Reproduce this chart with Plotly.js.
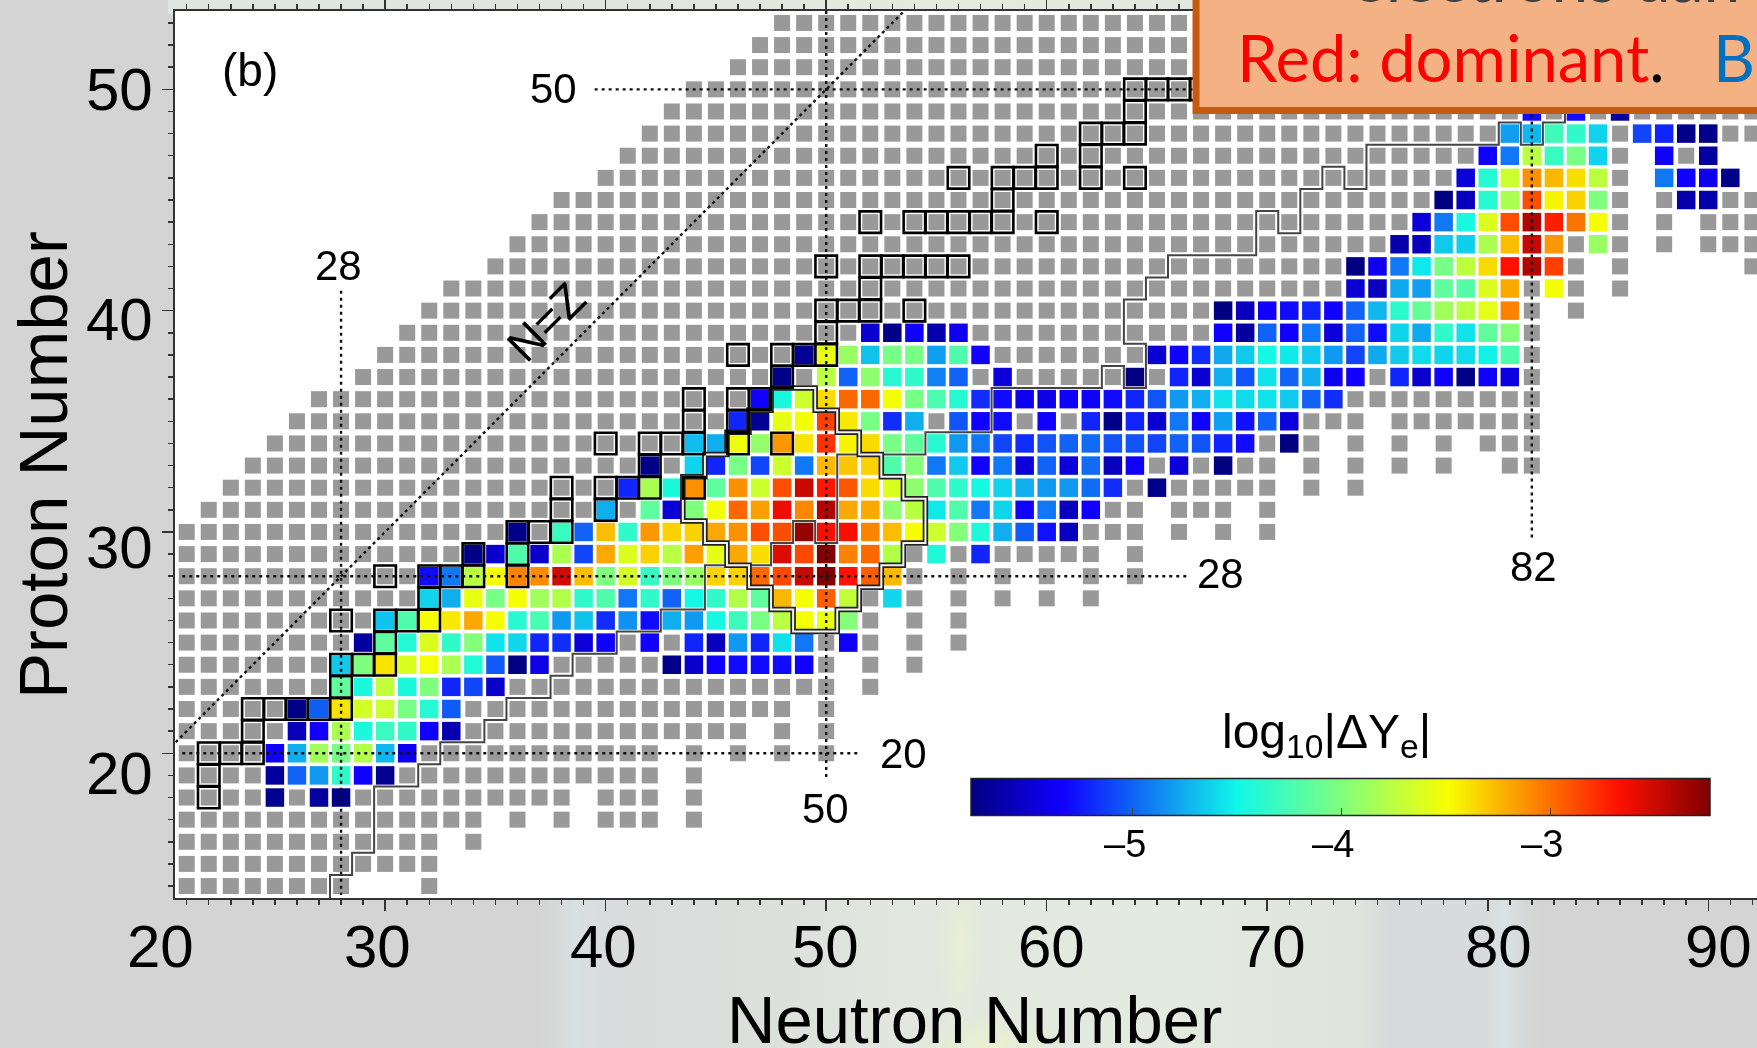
<!DOCTYPE html>
<html>
<head>
<meta charset="utf-8">
<title>Proton Number vs Neutron Number</title>
<script src="https://cdn.plot.ly/plotly-3.0.1.min.js"></script>
<style>
html,body{margin:0;padding:0;width:1757px;height:1048px;overflow:hidden;background:#d4d4d4;}
#bgTop{position:absolute;left:168px;top:0;width:1589px;height:14px;
 background:linear-gradient(to right,#dfe5e2 0,#e0e6dc 30%,#e5ecdf 50%,#e2e8dd 62%,#d9dcd9 100%);}
#bgBottom{position:absolute;left:540px;top:895px;width:1000px;height:153px;
 background:
 radial-gradient(ellipse 22px 90px at 420px 50px,rgba(240,244,205,.5),rgba(240,244,205,0)),
 radial-gradient(ellipse 80px 32px at 450px 150px,rgba(238,242,200,.7),rgba(238,242,200,0)),
 linear-gradient(to right,#d4d4d4 0,#d7d9d9 18px,#d8e0e2 35px,#d8dcdc 60px,#d9dcdb 90px,#dcdfdc 220px,#e2e8df 380px,#e3eadf 660px,#dfe3dc 820px,#d7d9da 850px,#d8dadb 945px,#d9e2e5 965px,#d5d7d7 985px,#d4d4d4 1000px);}
#plot{position:absolute;left:0;top:0;width:1757px;height:1048px;filter:blur(0.5px);}
</style>
</head>
<body>
<div id="bgTop"></div>
<div id="bgBottom"></div>
<div id="plot"></div>
<script>
// Measured (grey) nuclei: proton number and inclusive neutron ranges
const greyZ = [53,52,51,50,49,48,47,46,45,44,43,42,41,40,39,38,37,36,35,34,33,32,31,30,29,28,27,26,25,24,23,22,21,20,19,18,17,16,15,14];
const greyRanges = [
 [[48,67]],[[47,67]],[[46,67]],[[44,67]],[[43,92]],[[42,92]],
 [[41,86],[88,90]],[[40,86],[88,91]],[[38,86],[88,92]],
 [[37,86],[88,88],[90,92]],[[36,86],[88,88],[90,92]],[[35,84],[86,86],[92,92]],
 [[33,84],[86,86]],[[32,82],[84,84]],[[31,82]],[[30,82]],[[29,82]],[[27,82]],
 [[26,74],[76,82]],[[25,72],[74,74],[76,76],[78,78],[80,82]],
 [[24,70],[72,72],[74,74],[76,76],[78,78],[81,82]],[[23,70],[72,72],[74,74]],
 [[22,64],[66,68],[70,70]],[[21,64],[66,66],[68,68],[70,70]],[[21,62],[64,64]],
 [[21,54],[56,56],[58,58],[60,60],[62,62],[64,64]],[[21,54],[56,56],[58,58],[60,60],[62,62]],
 [[21,52],[54,54],[56,56]],[[21,52],[54,54],[56,56]],[[21,50],[52,52],[54,54]],
 [[21,50],[52,52]],[[21,48],[50,50]],[[21,46],[48,48],[50,50]],
 [[21,42],[44,44],[46,46],[48,48],[50,50]],[[21,42],[44,44]],[[21,38],[40,42],[44,44]],
 [[21,34],[36,36],[38,38],[40,42],[44,44]],[[21,32],[34,34]],[[21,32]],[[21,28],[32,32]]
];

// log10|dYe| per row: proton number, first neutron number, values (null = no value)
const valueZ = [49,48,47,46,45,44,43,42,41,40,39,38,37,36,35,34,33,32,31,30,29,28,27,26,25,24,23,22,21,20,19,18];
const valueStartN = [82,81,80,79,78,77,76,74,74,68,52,49,48,47,46,44,42,41,40,36,34,32,32,30,29,28,28,26,26,25,25,25];
const valueRows = [
 [-5.30,null,-5.30,null,-5.67],
 [-4.80,-4.72,-4.29,-4.36,-4.62,null,-5.10,-5.21,-5.74,-5.74],
 [-5.33,-4.93,-3.76,-4.32,-4.04,-4.62,null,null,-5.33,null,-5.67],
 [-5.46,-4.40,-3.68,-3.12,-3.25,-3.38,-3.74,null,null,-4.93,-5.33,-5.39,-5.74],
 [-5.77,-5.56,-4.40,-3.82,-2.89,-3.46,-3.34,-4.00,null,null,null,-5.62,-5.62],
 [-5.46,-4.93,-4.46,-3.62,-2.89,-2.41,-2.73,-3.02,-3.51],
 [-5.62,-5.56,-4.66,-4.64,-3.82,-3.27,-2.49,-3.14,null,-3.90],
 [-5.77,-5.39,-4.93,-4.55,-4.04,-3.74,-3.37,-2.68,-2.41,-2.84],
 [-5.49,-5.56,-4.77,-4.80,-4.15,-4.20,-3.62,-3.20,null,-3.51],
 [-5.77,-5.56,-5.33,-5.30,-5.21,-5.33,-5.00,-4.72,-4.38,-4.12,-3.86,-3.76,-3.58,-3.07],
 [-5.49,-5.74,-5.33,-5.62,-5.39,null,null,null,null,null,null,null,null,null,null,null,-5.33,-5.67,-5.00,-5.33,-4.93,-5.46,-5.00,-5.30,-4.62,-4.77,-4.36,-4.57,-4.15,-3.98],
 [-5.70,-3.56,-3.90,-4.68,-4.04,-4.04,-4.80,-4.22,-5.33,null,null,null,null,null,null,null,-5.49,-5.33,-5.18,-4.77,-4.66,-4.48,-4.55,-4.66,-4.82,-5.10,-4.77,-4.66,-4.60,-4.62,-4.60,-4.52,-4.22],
 [-5.74,null,-3.76,-5.00,-3.94,-4.40,-4.36,-4.90,-5.00,null,-5.46,null,null,null,null,null,-5.77,null,-5.21,-5.49,-4.75,-5.05,-4.57,-5.00,-4.75,-5.39,-5.33,null,-5.21,-5.50,-5.33,-5.74,-5.36,-5.43],
 [-5.33,-4.45,-3.68,-3.37,-2.98,-2.98,-3.51,-4.04,-4.24,-4.40,-5.18,-5.30,-5.39,-5.42,-5.33,-5.36,-5.30,-5.21,-5.05,-4.82,-4.75,-4.57,-4.60,-4.57,-4.66,-5.00,-5.18],
 [-5.21,-5.70,-3.58,-3.51,-2.84,-3.42,-4.04,-5.18,-4.75,null,-5.05,-5.33,-5.30,null,-5.33,null,-5.21,-5.74,-5.21,-5.49,-4.93,-5.33,-4.80,-5.28,-5.00,-5.46],
 [-4.70,-4.75,-3.54,-3.92,-3.14,-3.40,-2.80,-3.46,-3.37,-4.04,-4.15,-4.40,-4.82,-4.93,-5.10,-5.18,-5.05,-5.00,-4.97,-5.05,-5.05,-5.10,-5.00,-5.05,-5.21,-5.30,null,-5.77],
 [-5.74,null,-4.62,-5.21,-4.04,-5.10,-3.68,-4.93,-3.25,-3.30,-3.34,-4.22,-3.98,-4.93,-4.66,-5.33,-4.93,-5.46,-5.00,-5.46,-4.97,-5.56,-5.36,null,-5.46,null,-5.77],
 [-5.21,-3.82,-4.45,-3.12,-4.15,-3.12,-3.68,-2.89,-2.49,-2.70,-2.92,-3.37,-3.62,-3.94,-4.22,-4.36,-4.48,-4.62,-4.75,-4.82,-4.82,-4.97,-5.18,null,-5.74],
 [-4.75,null,-4.15,-5.46,-4.00,-3.52,-2.98,-3.17,-2.62,-3.09,-2.41,-3.20,-3.20,-3.94,-3.76,-4.55,-4.22,-4.93,-4.62,-5.33,-4.93,-5.56,-5.33],
 [-5.74,null,-4.32,-5.00,-3.27,-4.36,-3.14,-3.34,-3.34,-3.20,-3.12,-2.89,-2.89,-2.31,-2.66,-2.66,-3.07,-3.27,-3.50,-3.68,-3.98,-4.43,-4.75,-5.02,-5.28,-5.56],
 [-5.74,-5.50,-4.22,-5.50,-3.82,-5.10,-3.20,-3.62,-3.34,-3.76,-3.17,-3.58,-3.20,-3.38,-2.56,-2.87,-2.24,-3.07,-2.98,-3.79,null,-4.43,null,-5.21],
 [-5.30,-4.93,-3.76,-3.51,-3.07,-3.10,-2.52,-3.27,-4.00,-3.65,-4.32,-4.00,-3.90,-3.34,-3.34,-2.98,-2.87,-2.49,-2.24,-2.68,-2.95,-3.25],
 [-4.62,-4.75,-3.56,-4.04,-3.50,-3.86,-3.79,-4.36,-4.22,-4.93,-4.36,-5.00,-4.48,-4.36,-3.79,-4.15,-3.25,-3.51,-2.95,-3.72,null,-4.61],
 [-4.68,-4.22,-3.50,-3.42,-3.20,-3.50,-4.40,-4.25,-4.82,-4.68,-5.18,-4.85,-5.30,-4.75,-4.82,-4.48,-4.30,-4.04,-3.76,-3.51,-3.56,-3.98],
 [-5.67,-4.15,-4.42,-3.62,-4.36,-3.98,-4.57,-4.61,-5.21,-5.18,-5.46,-5.33,null,-5.33,null,-5.21,-5.56,-4.82,-5.21,-4.58,-4.93,null,-5.36],
 [-4.66,-4.00,-3.40,-3.62,-3.51,-3.82,-4.42,-5.03,-5.77,-5.42,null,null,null,null,null,-5.74,-5.50,-5.33,-5.30,-5.30,-5.30,-5.33],
 [-4.15,-4.45,-3.72,-4.45,-4.00,-5.21,-5.10,-5.52],
 [-5.74,-5.02,-3.40,-3.65,-3.68,-4.04,-4.40,-5.03],
 [-5.56,-5.33,-3.82,-4.45,-4.32,-4.36,-5.33,-5.60],
 [-5.33,-4.75,-3.86,-4.04,-3.79,-4.72,-5.39],
 [-5.67,-5.00,-4.82,-4.36,-5.33,-5.72],
 [-5.72,null,-5.67,-5.74]
];

// Stable nuclei (black outlined squares)
const stableZ = [50,49,48,47,46,45,44,42,41,40,39,38,37,36,35,34,33,32,31,30,29,28,27,26,25,24,23,22,21,20,19,18];
const stableN = [[64,65,66,67],[64],[62,63,64],[60,62],[56,58,59,60,62,64],[58],[52,54,55,56,57,58,60],[50,52,53,54,55,56],[52],[50,51,52,54],[50],[46,48,49,50],[48],[44,46,47],[44,46],[40,42,43,44,46,48],[42],[38,40,41,42,44],[38,40],[36,37,38],[34,36],[30,32,33,34,36],[32],[28,30,31,32],[30],[28,29,30],[28],[24,25,26,27,28],[24],[22,23,24],[22],[22]];

// Stepped outline of the r-process path
const pathN = [27.5,27.5,28.5,28.5,29.5,29.5,31.5,31.5,32.5,32.5,34.5,34.5,35.5,35.5,37.5,37.5,38.5,38.5,40.5,40.5,42.5,42.5,44.5,44.5,47.5,47.5,48.5,48.5,49.5,49.5,50.5,50.5,54.5,54.5,57.5,57.5,62.5,62.5,63.5,63.5,64.5,64.5,63.5,63.5,64.5,64.5,65.5,65.5,69.5,69.5,70.5,70.5,71.5,71.5,72.5,72.5,73.5,73.5,74.5,74.5,80.5,80.5,81.5,81.5,82.5,82.5,83.5,83.5];
const pathZ = [13.4,14.5,14.5,15.5,15.5,18.5,18.5,19.5,19.5,20.5,20.5,21.5,21.5,22.5,22.5,23.5,23.5,24.5,24.5,25.5,25.5,26.5,26.5,28.5,28.5,29.5,29.5,30.5,30.5,29.5,29.5,33.5,33.5,34.5,34.5,36.5,36.5,37.5,37.5,36.5,36.5,38.5,38.5,40.5,40.5,41.5,41.5,42.5,42.5,44.5,44.5,43.5,43.5,45.5,45.5,46.5,46.5,45.5,45.5,47.5,47.5,48.5,48.5,47.5,47.5,48.5,48.5,50];

// Diamond outline around the dominant region
const diamondN = [47.5,49.5,49.5,50.5,50.5,51.5,51.5,52.5,52.5,53.5,53.5,54.5,54.5,53.5,53.5,52.5,52.5,51.5,51.5,50.5,50.5,48.5,48.5,47.5,47.5,46.5,46.5,45.5,45.5,44.5,44.5,43.5,43.5,44.5,44.5,45.5,45.5,46.5,46.5,47.5,47.5];
const diamondZ = [36.5,36.5,35.5,35.5,34.5,34.5,33.5,33.5,32.5,32.5,31.5,31.5,29.5,29.5,28.5,28.5,27.5,27.5,26.5,26.5,25.5,25.5,26.5,26.5,27.5,27.5,28.5,28.5,29.5,29.5,30.5,30.5,32.5,32.5,33.5,33.5,34.5,34.5,35.5,35.5,36.5];

// Magic number guide lines and N=Z
const guideN = [[28,28],[50,50],[82,82],[39.5,67],[20.8,66.4],[20.8,51.5]];
const guideZ = [[40.9,13.6],[53.54,18.8],[49.5,29.6],[50,50],[28,28],[20,20]];
const diagonalN = [20.5,53.5];
const diagonalZ = [20.5,53.5];

// Colour bar
const valueMin = -5.774, valueMax = -2.238;
const barTicks = [-5,-4,-3];
const barTickText = ['\u20135','\u20134','\u20133'];
const barTickPx = [1125,1333,1542];
const jet = [[0,'#00007f'],[0.125,'#1000ff'],[0.36,'#10f8e8'],[0.5,'#7fff7f'],[0.645,'#f8ff00'],[0.875,'#ff1000'],[1,'#7f0000']];

// Text
const xTickText = ['20','30','40','50','60','70','80','90'];
const xTickPx = [160,377,603,825,1051,1272,1498,1718];
const yTickText = ['50','40','30','20'];
const yTickPx = [90,319,547,773];
const noteText = ['50','28','28','82','20','50'];
const noteX = [553,338,1220,1533,903,825];
const noteY = [89,265,573,566,753,808];

// ---------- build ----------
const W=1757,H=1048,ML=175,MT=11,MB=150;
const PW=W-ML,PH=H-MT-MB;
const px=X=>(X-ML)/PW, py=Y=>(H-MB-Y)/PH;
const FONT='Liberation Sans, Arial, sans-serif';

const gx=[],gy=[];
greyZ.forEach((z,i)=>greyRanges[i].forEach(r=>{for(let n=r[0];n<=r[1];n++){gx.push(n);gy.push(z);}}));
const cx=[],cy=[],cv=[];
valueZ.forEach((z,i)=>valueRows[i].forEach((v,j)=>{if(v!==null){cx.push(valueStartN[i]+j);cy.push(z);cv.push(v);}}));
const sx=[],sy=[];
stableZ.forEach((z,i)=>stableN[i].forEach(n=>{sx.push(n);sy.push(z);}));

const traces=[
 {type:'scatter',mode:'markers',x:gx,y:gy,hoverinfo:'skip',showlegend:false,
  marker:{symbol:'square',size:16,color:'#999999',line:{width:0}}},
 {type:'scatter',mode:'markers',x:cx,y:cy,showlegend:false,
  marker:{symbol:'square',size:18.5,color:cv,cmin:valueMin,cmax:valueMax,colorscale:jet,line:{width:0},showscale:true,
   colorbar:{orientation:'h',lenmode:'pixels',len:739,thicknessmode:'pixels',thickness:37.4,
    x:px(971),xanchor:'left',xref:'paper',y:py(824.7),yanchor:'bottom',yref:'paper',xpad:0,ypad:0,
    outlinewidth:1.5,outlinecolor:'#222',ticks:'inside',ticklen:8,tickwidth:1,tickcolor:'#444',
    tickvals:barTicks,showticklabels:false}}},
 {type:'scatter',mode:'lines',x:pathN,y:pathZ,hoverinfo:'skip',showlegend:false,line:{color:'#444',width:2}},
 {type:'scatter',mode:'lines',x:diamondN,y:diamondZ,hoverinfo:'skip',showlegend:false,line:{color:'#222',width:5.5}},
 {type:'scatter',mode:'lines',x:diamondN,y:diamondZ,hoverinfo:'skip',showlegend:false,line:{color:'#f2f2f2',width:2}},
 {type:'scatter',mode:'markers',x:sx,y:sy,hoverinfo:'skip',showlegend:false,
  marker:{symbol:'square-open',size:21.5,color:'#000',line:{width:2.6,color:'#000'}}},
 {type:'scatter',mode:'lines',x:diagonalN,y:diagonalZ,hoverinfo:'skip',showlegend:false,line:{color:'#111',width:2.4,dash:'3px,3.5px'}}
];
guideN.forEach((g,i)=>traces.push({type:'scatter',mode:'lines',x:g,y:guideZ[i],hoverinfo:'skip',showlegend:false,line:{color:'#111',width:2.4,dash:'3px,4px'}}));

const ann=(text,X,Y,size,extra)=>Object.assign({text,x:px(X),y:py(Y),xref:'paper',yref:'paper',showarrow:false,xanchor:'center',yanchor:'middle',
  borderpad:0,borderwidth:0,font:{family:FONT,size,color:'#000'}},extra||{});
const annotations=[];
xTickText.forEach((t,i)=>annotations.push(ann(t,xTickPx[i],947,60)));
yTickText.forEach((t,i)=>annotations.push(ann(t,119,yTickPx[i],60)));
noteText.forEach((t,i)=>annotations.push(ann(t,noteX[i],noteY[i],42)));
barTickText.forEach((t,i)=>annotations.push(ann(t,barTickPx[i],844,38)));
annotations.push(ann('(b)',250,70,46));
annotations.push(ann('N=Z',546,322,46,{textangle:-45}));
annotations.push(ann('Neutron Number',975,1020,67));
annotations.push(ann('Proton Number',43,465,69,{textangle:-90}));
annotations.push(ann('log<sub>10</sub>|\u0394Y<sub>e</sub>|',1326,735,48));
const CAL='Lato, Carlito, sans-serif';
annotations.push(ann('<span style="color:#ff0000">Red: dominant</span>.',1237,57,65,{xanchor:'left',font:{family:CAL,size:65,color:'#000'}}));
annotations.push(ann('B',1713,57,65,{xanchor:'left',font:{family:CAL,size:65,color:'#0070c0'}}));
annotations.push(ann('electrons dan',1351,-24,66,{xanchor:'left',font:{family:CAL,size:66,color:'#404040'}}));

const axisCommon={showgrid:false,zeroline:false,showticklabels:false,showline:true,linewidth:2,linecolor:'#333',mirror:'allticks',
 ticks:'outside',ticklen:11,tickwidth:1.5,tickcolor:'#333',tick0:0,dtick:10,
 minor:{ticks:'outside',ticklen:5,tickwidth:1.5,tickcolor:'#333',dtick:1,tick0:0,showgrid:false}};

Plotly.newPlot('plot',traces,{
 width:W,height:H,autosize:false,showlegend:false,
 margin:{l:ML,r:0,t:MT,b:MB,pad:0},
 paper_bgcolor:'rgba(0,0,0,0)',plot_bgcolor:'#ffffff',
 xaxis:Object.assign({},axisCommon,{range:[20.47,92.21]}),
 yaxis:Object.assign({},axisCommon,{range:[13.46,53.54]}),
 shapes:[{type:'rect',xref:'paper',yref:'paper',x0:px(1196),x1:px(1790),y0:py(110.5),y1:py(-40),
   fillcolor:'#f4b183',line:{color:'#c55a11',width:7},layer:'above'}],
 annotations
},{displayModeBar:false,staticPlot:true});
</script>
</body>
</html>
